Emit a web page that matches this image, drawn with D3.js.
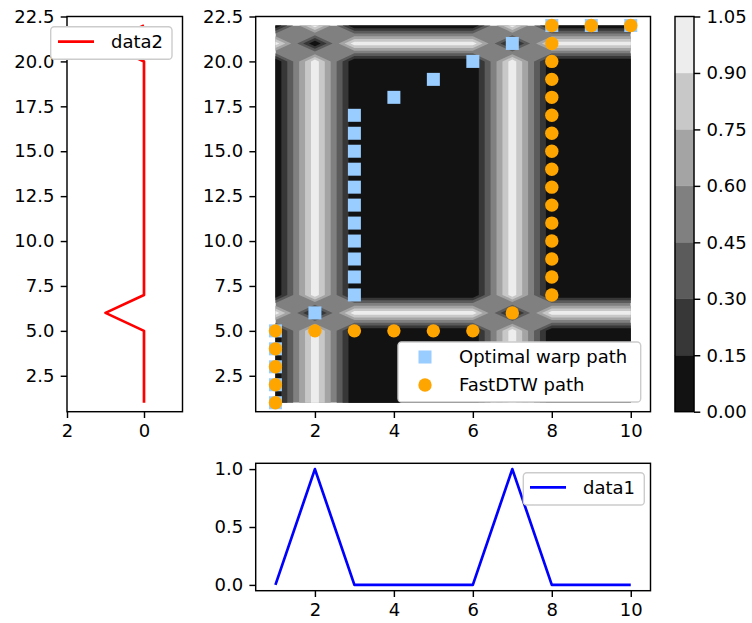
<!DOCTYPE html>
<html>
<head>
<meta charset="utf-8">
<script src="https://cdn.jsdelivr.net/npm/d3@7"></script>
<style>
body { margin: 0; background: #fff; }
svg text { font-family: "DejaVu Sans", sans-serif; }
</style>
</head>
<body>
<div id="chart"></div>
<script>
// the two series
var data1 = [0, 1, 0, 0, 0, 0, 1, 0, 0, 0];
var data2 = [0, 0, 0, 0, 0, 1, 0, 0, 0, 0, 0, 0, 0, 0, 0, 0, 0, 0, 0, 0, 1, 0];

// warp paths (1-based indices into data1 / data2)
var optX = [1, 1, 1, 1, 1, 2, 3, 3, 3, 3, 3, 3, 3, 3, 3, 3, 3, 4, 5, 6, 7, 8, 9, 10];
var optY = [1, 2, 3, 4, 5, 6, 7, 8, 9, 10, 11, 12, 13, 14, 15, 16, 17, 18, 19, 20, 21, 22, 22, 22];
var fastX = [1, 1, 1, 1, 1, 2, 3, 4, 5, 6, 7, 8, 8, 8, 8, 8, 8, 8, 8, 8, 8, 8, 8, 8, 8, 8, 8, 9, 10];
var fastY = [1, 2, 3, 4, 5, 5, 5, 5, 5, 5, 6, 7, 8, 9, 10, 11, 12, 13, 14, 15, 16, 17, 18, 19, 20, 21, 22, 22, 22];

// contour levels / colorbar ticks
var levels = [0, 0.15, 0.30, 0.45, 0.60, 0.75, 0.90, 1.05];

// tick labels
var mainXTicks = [2, 4, 6, 8, 10];
var mainYTicks = [2.5, 5, 7.5, 10, 12.5, 15, 17.5, 20, 22.5];
var leftXTicks = [2, 0];
var bottomYTicks = [0, 0.5, 1];

var width = 752, height = 623;
var fs = 18, tickLen = 6.3, tickPad = 6.3, lw = 1.44;

var svg = d3.select("#chart").append("svg")
    .attr("width", width)
    .attr("height", height);

// scales
var x = d3.scaleLinear().domain([0.5, 10.5]).range([255.7, 650.5]);
var y = d3.scaleLinear().domain([0.5, 22.5]).range([411.7, 16.5]);
var xl = d3.scaleLinear().domain([2, -1]).range([67, 182.5]);
var yb = d3.scaleLinear().domain([-0.05, 1.05]).range([590.7, 463.3]);
var yc = d3.scaleLinear().domain([0, 1.05]).range([411.7, 16.5]);

function bandColor(k) {
    var v = Math.round(255 * (k + 0.5) / (levels.length - 1));
    return d3.rgb(v, v, v).toString();
}

function styleAxis(g) {
    g.attr("font-size", fs).attr("font-family", "DejaVu Sans");
    g.select(".domain").remove();
    g.selectAll(".tick line").attr("stroke", "#000").attr("stroke-width", lw);
    g.selectAll(".tick text").attr("fill", "#000");
}

function spines(x0, x1, y0, y1) {
    svg.append("rect")
        .attr("x", x0).attr("y", y1)
        .attr("width", x1 - x0).attr("height", y0 - y1)
        .attr("fill", "none")
        .attr("stroke", "#000")
        .attr("stroke-width", lw);
}

// ---------- main panel: distance matrix contour ----------
var nx = data1.length, ny = data2.length;
var dist = [];
for (var j = 0; j < ny; j++) {
    for (var i = 0; i < nx; i++) {
        dist.push(Math.abs(data1[i] - data2[j]));
    }
}
var negDist = dist.map(function(v) { return -v; });

svg.append("clipPath").attr("id", "gridclip")
  .append("rect")
    .attr("x", x(1)).attr("y", y(ny))
    .attr("width", x(nx) - x(1))
    .attr("height", y(1) - y(ny));

var gridPath = d3.geoPath(d3.geoTransform({
    point: function(px, py) { this.stream.point(x(px + 0.5), y(py + 0.5)); }
}));
var contours = d3.contours().size([nx, ny]);

var cg = svg.append("g").attr("clip-path", "url(#gridclip)");
// middle band as the base
cg.append("rect")
    .attr("x", x(1)).attr("y", y(ny))
    .attr("width", x(nx) - x(1))
    .attr("height", y(1) - y(ny))
    .attr("fill", bandColor(3));
// lower bands painted from below (saddles keep the high corners joined)
[3, 2, 1].forEach(function(k) {
    cg.append("path")
        .attr("d", gridPath(contours.contour(negDist, -levels[k])))
        .attr("fill", bandColor(k - 1))
        .attr("fill-rule", "evenodd");
});
// upper bands
[4, 5, 6].forEach(function(k) {
    cg.append("path")
        .attr("d", gridPath(contours.contour(dist, levels[k])))
        .attr("fill", bandColor(k))
        .attr("fill-rule", "evenodd");
});

// warp paths
svg.append("g").selectAll("rect")
    .data(optX)
    .enter()
    .append("rect")
    .attr("x", function(d) { return x(d) - 6.5; })
    .attr("y", function(d, i) { return y(optY[i]) - 6.5; })
    .attr("width", 13)
    .attr("height", 13)
    .attr("fill", "#99ccff");

svg.append("g").selectAll("circle")
    .data(fastX)
    .enter()
    .append("circle")
    .attr("cx", function(d) { return x(d); })
    .attr("cy", function(d, i) { return y(fastY[i]); })
    .attr("r", 6.7)
    .attr("fill", "orange");

svg.append("g")
    .attr("transform", "translate(0," + y(0.5) + ")")
    .call(d3.axisBottom(x).tickValues(mainXTicks).tickFormat(d3.format("d"))
        .tickSize(tickLen).tickPadding(tickPad))
    .call(styleAxis);
svg.append("g")
    .attr("transform", "translate(" + x(0.5) + ",0)")
    .call(d3.axisLeft(y).tickValues(mainYTicks).tickFormat(d3.format(".1f"))
        .tickSize(tickLen).tickPadding(tickPad))
    .call(styleAxis);
spines(x(0.5), x(10.5), y(0.5), y(22.5));

// ---------- left panel: data2 ----------
var line2 = d3.line()
    .x(function(d) { return xl(d); })
    .y(function(d, i) { return y(i + 1); });
svg.append("path")
    .datum(data2)
    .attr("d", line2)
    .attr("fill", "none")
    .attr("stroke", "red")
    .attr("stroke-width", 2.7)
    .attr("stroke-linejoin", "round");

svg.append("g")
    .attr("transform", "translate(0," + y(0.5) + ")")
    .call(d3.axisBottom(xl).tickValues(leftXTicks).tickFormat(d3.format("d"))
        .tickSize(tickLen).tickPadding(tickPad))
    .call(styleAxis);
svg.append("g")
    .attr("transform", "translate(" + xl(2) + ",0)")
    .call(d3.axisLeft(y).tickValues(mainYTicks).tickFormat(d3.format(".1f"))
        .tickSize(tickLen).tickPadding(tickPad))
    .call(styleAxis);
spines(xl(2), xl(-1), y(0.5), y(22.5));

// ---------- bottom panel: data1 ----------
var line1 = d3.line()
    .x(function(d, i) { return x(i + 1); })
    .y(function(d) { return yb(d); });
svg.append("path")
    .datum(data1)
    .attr("d", line1)
    .attr("fill", "none")
    .attr("stroke", "blue")
    .attr("stroke-width", 2.7)
    .attr("stroke-linejoin", "round");

svg.append("g")
    .attr("transform", "translate(0," + yb(-0.05) + ")")
    .call(d3.axisBottom(x).tickValues(mainXTicks).tickFormat(d3.format("d"))
        .tickSize(tickLen).tickPadding(tickPad))
    .call(styleAxis);
svg.append("g")
    .attr("transform", "translate(" + x(0.5) + ",0)")
    .call(d3.axisLeft(yb).tickValues(bottomYTicks).tickFormat(d3.format(".1f"))
        .tickSize(tickLen).tickPadding(tickPad))
    .call(styleAxis);
spines(x(0.5), x(10.5), yb(-0.05), yb(1.05));

// ---------- colorbar ----------
var cbX = 675, cbW = 19;
svg.append("g").selectAll("rect")
    .data(levels.slice(0, -1))
    .enter()
    .append("rect")
    .attr("x", cbX)
    .attr("y", function(d, k) { return yc(levels[k + 1]); })
    .attr("width", cbW)
    .attr("height", function(d, k) { return yc(d) - yc(levels[k + 1]); })
    .attr("fill", function(d, k) { return bandColor(k); })
    .attr("stroke", function(d, k) { return bandColor(k); })
    .attr("stroke-width", 0.5);
svg.append("g")
    .attr("transform", "translate(" + (cbX + cbW) + ",0)")
    .call(d3.axisRight(yc).tickValues(levels).tickFormat(d3.format(".2f"))
        .tickSize(tickLen).tickPadding(tickPad))
    .call(styleAxis);
spines(cbX, cbX + cbW, yc(0), yc(1.05));

// ---------- legends ----------
function legendBox(x0, y0, w, h) {
    svg.append("rect")
        .attr("x", x0).attr("y", y0)
        .attr("width", w).attr("height", h)
        .attr("rx", 3.6).attr("ry", 3.6)
        .attr("fill", "#fff")
        .attr("stroke", "#cccccc")
        .attr("stroke-width", 1.4);
}
function legendText(tx, ty, label) {
    svg.append("text")
        .attr("x", tx).attr("y", ty)
        .attr("dy", "0.35em")
        .attr("font-size", fs)
        .attr("fill", "#000")
        .text(label);
}

// data2
legendBox(50.7, 26.7, 121.3, 32.6);
svg.append("line")
    .attr("x1", 58).attr("x2", 94).attr("y1", 41.7).attr("y2", 41.7)
    .attr("stroke", "red").attr("stroke-width", 2.7);
legendText(111, 41.7, "data2");

// main
legendBox(398, 342, 242.7, 60);
svg.append("rect")
    .attr("x", 425 - 6.5).attr("y", 357 - 6.5)
    .attr("width", 13).attr("height", 13)
    .attr("fill", "#99ccff");
legendText(459, 357, "Optimal warp path");
svg.append("circle")
    .attr("cx", 425).attr("cy", 385).attr("r", 6.7)
    .attr("fill", "orange");
legendText(459, 385, "FastDTW path");

// data1
legendBox(523.3, 472.7, 121, 32.3);
svg.append("line")
    .attr("x1", 530).attr("x2", 566).attr("y1", 487.3).attr("y2", 487.3)
    .attr("stroke", "blue").attr("stroke-width", 2.7);
legendText(583, 487.3, "data1");
</script>
</body>
</html>
